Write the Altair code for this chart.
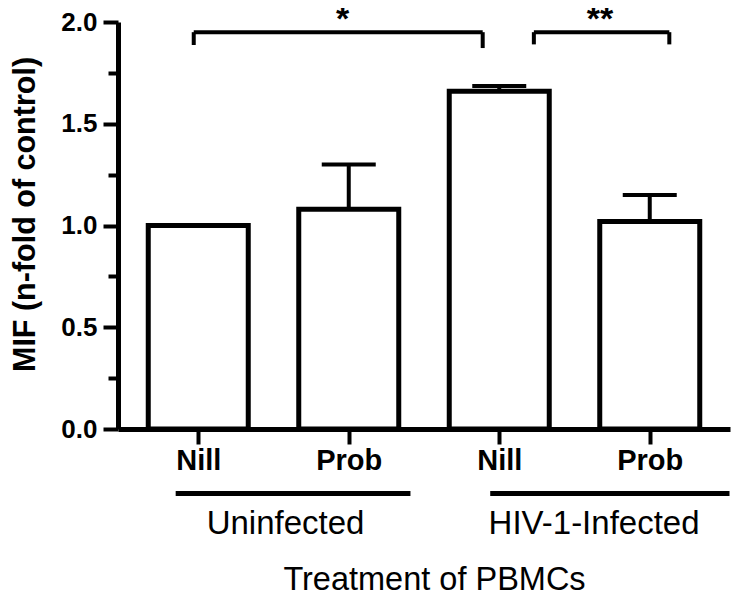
import altair as alt
import pandas as pd

# ---- data ----
positions = [1, 2, 3, 4]
treatments = ["Nill", "Prob", "Nill", "Prob"]
groups = ["Uninfected", "Uninfected", "HIV-1-Infected", "HIV-1-Infected"]
mif_mean = [1.00, 1.08, 1.66, 1.02]
mif_sem = [0.00, 0.22, 0.025, 0.13]

y_ticks = [0.0, 0.25, 0.5, 0.75, 1.0, 1.25, 1.5, 1.75, 2.0]

group_names = ["Uninfected", "HIV-1-Infected"]
group_start = [0.85, 2.94]
group_end = [2.41, 4.53]
group_label_x = [1.58, 3.63]

sig_labels = ["*", "**"]
sig_start = [0.97, 3.23]
sig_end = [2.89, 4.13]
sig_y = [1.95, 1.95]
sig_drop_left = [1.887, 1.89]
sig_drop_right = [1.872, 1.89]
sig_label_x = [1.96, 3.67]
sig_label_y = [1.96, 1.96]

FONT = "Liberation Sans"
W, H = 612, 407

bars_df = pd.DataFrame({
    "pos": positions, "treatment": treatments, "group": groups,
    "mean": mif_mean, "sem": mif_sem,
})
bars_df["upper"] = bars_df["mean"] + bars_df["sem"]

groups_df = pd.DataFrame({"name": group_names, "start": group_start,
                          "end": group_end, "lx": group_label_x})
sig_df = pd.DataFrame({"label": sig_labels, "start": sig_start, "end": sig_end,
                       "y": sig_y, "dl": sig_drop_left, "dr": sig_drop_right,
                       "lx": sig_label_x, "ly": sig_label_y})

x_scale = alt.Scale(domain=[0.5, 4.5], nice=False, zero=False)
y_scale = alt.Scale(domain=[0, 2], nice=False, zero=True)

label_expr = "[" + ",".join(f"'{t}'" for t in treatments) + "][datum.value - 1]"

x_axis = alt.Axis(
    values=positions, labelExpr=label_expr, grid=False,
    tickSize=15, tickWidth=4, tickColor="black",
    domainWidth=5, domainColor="black",
    labelFont=FONT, labelFontSize=29, labelFontWeight="bold", labelColor="black",
    labelPadding=2, labelAngle=0,
    title="Treatment of PBMCs", titleFont=FONT, titleFontSize=32.5,
    titleFontWeight="normal", titleColor="black",
    titleX=316, titleY=160, titleAlign="center", titleBaseline="alphabetic",
)

y_axis = alt.Axis(
    values=y_ticks, grid=False,
    labelExpr="datum.value % 0.5 == 0 ? format(datum.value, '.1f') : ''",
    tickSize={"condition": {"test": "datum.value % 0.5 != 0", "value": 10}, "value": 15},
    tickWidth=4, tickColor="black",
    domainWidth=5, domainColor="black",
    labelFont=FONT, labelFontSize=26, labelFontWeight="bold", labelColor="black",
    labelPadding=6,
    title="MIF (n-fold of control)", titleFont=FONT, titleFontSize=30.5,
    titleFontWeight="bold", titleColor="black",
    titleX=-93, titleY=192, titleAngle=270, titleAlign="center", titleBaseline="middle",
)

bars = alt.Chart(bars_df).mark_bar(
    size=100, fill="white", stroke="black", strokeWidth=5, orient="vertical"
).encode(
    x=alt.X("pos:Q", scale=x_scale, axis=x_axis),
    y=alt.Y("mean:Q", scale=y_scale, axis=y_axis),
    y2=alt.datum(0),
)

stems = alt.Chart(bars_df).mark_rule(color="black", strokeWidth=4).encode(
    x=alt.X("pos:Q", scale=x_scale),
    y=alt.Y("mean:Q", scale=y_scale),
    y2="upper:Q",
)

caps = alt.Chart(bars_df).mark_tick(
    orient="horizontal", size=54, thickness=4, color="black", opacity=1
).encode(
    x=alt.X("pos:Q", scale=x_scale),
    y=alt.Y("upper:Q", scale=y_scale),
)

group_lines = alt.Chart(groups_df).mark_rule(color="black", strokeWidth=5).encode(
    x=alt.X("start:Q", scale=x_scale),
    x2="end:Q",
    y=alt.value(471.5),
)

group_text = alt.Chart(groups_df).mark_text(
    font=FONT, fontSize=33, color="black", baseline="alphabetic", align="center"
).encode(
    x=alt.X("lx:Q", scale=x_scale),
    y=alt.value(512),
    text="name:N",
)

sig_h = alt.Chart(sig_df).mark_rule(color="black", strokeWidth=4).encode(
    x=alt.X("start:Q", scale=x_scale),
    x2="end:Q",
    y=alt.Y("y:Q", scale=y_scale),
)
sig_l = alt.Chart(sig_df).mark_rule(color="black", strokeWidth=4).encode(
    x=alt.X("start:Q", scale=x_scale),
    y=alt.Y("y:Q", scale=y_scale),
    y2="dl:Q",
)
sig_r = alt.Chart(sig_df).mark_rule(color="black", strokeWidth=4).encode(
    x=alt.X("end:Q", scale=x_scale),
    y=alt.Y("y:Q", scale=y_scale),
    y2="dr:Q",
)
sig_text = alt.Chart(sig_df).mark_text(
    font=FONT, fontSize=34, fontWeight="bold", color="black",
    baseline="alphabetic", align="center"
).encode(
    x=alt.X("lx:Q", scale=x_scale),
    y=alt.Y("ly:Q", scale=y_scale),
    text="label:N",
)

chart = alt.layer(
    bars, stems, caps, group_lines, group_text, sig_h, sig_l, sig_r, sig_text
).properties(
    width=W, height=H,
    autosize=alt.AutoSizeParams(type="none"),
    padding={"left": 110, "top": 14, "right": 7, "bottom": 168},
    background="white",
).configure_view(stroke=None)

chart.save("out.html", embed_options={"renderer": "svg", "actions": False})
